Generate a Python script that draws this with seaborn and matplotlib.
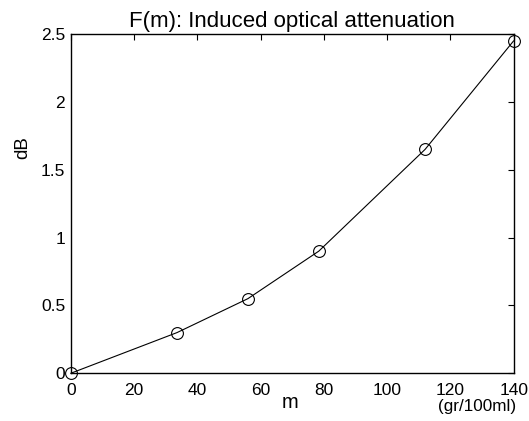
import matplotlib
matplotlib.use("Agg")
import matplotlib.pyplot as plt
import seaborn as sns
import pandas as pd

# Induced optical attenuation as a function of concentration
m_values = [0, 33.6, 56, 78.4, 112, 140]
db_values = [0, 0.30, 0.55, 0.90, 1.65, 2.45]
x_ticks = [0, 20, 40, 60, 80, 100, 120, 140]
y_ticks = [0, 0.5, 1, 1.5, 2, 2.5]
y_tick_labels = ["0", "0.5", "1", "1.5", "2", "2.5"]

sns.set_style("white")
plt.rcParams["font.family"] = ["Liberation Sans", "DejaVu Sans"]
plt.rcParams["text.color"] = "black"
plt.rcParams["axes.labelcolor"] = "black"

df = pd.DataFrame({"m": m_values, "dB": db_values})

fig = plt.figure(figsize=(5.29, 4.21), dpi=100)
ax = fig.add_axes([70.7 / 529, 47.7 / 421, 443 / 529, 339.3 / 421])

sns.lineplot(data=df, x="m", y="dB", ax=ax, color="black", linewidth=0.8,
             marker="o", markersize=8.5, markerfacecolor="none",
             markeredgecolor="black", markeredgewidth=0.8, clip_on=False)

ax.set_xlim(0, 140)
ax.set_ylim(0, 2.5)
ax.set_xticks(x_ticks)
ax.set_xticklabels([str(t) for t in x_ticks])
ax.set_yticks(y_ticks)
ax.set_yticklabels(y_tick_labels)

ax.tick_params(axis="both", which="both", direction="in", length=4, width=0.8,
               top=True, right=True, labelsize=12.5, colors="black")
ax.tick_params(axis="x", pad=7)
ax.tick_params(axis="y", pad=4)
for spine in ax.spines.values():
    spine.set_visible(True)
    spine.set_color("black")
    spine.set_linewidth(1.0)

ax.set_title("F(m): Induced optical attenuation", fontsize=16, pad=5,
             color="black")

ax.set_xlabel("m", fontsize=14.5)
ax.xaxis.label.set_verticalalignment("baseline")
ax.xaxis.set_label_coords(0.496, -0.102)

ax.set_ylabel("dB", fontsize=13.5)
ax.yaxis.label.set_verticalalignment("center")
ax.yaxis.set_label_coords(-0.108, 0.664)

# unit note sits under the right end of the x axis
ax.text(0.9165, -0.112, "(gr/100ml)", transform=ax.transAxes,
        fontsize=12.3, ha="center", va="baseline", color="black")

fig.savefig("out.png", dpi=100)
